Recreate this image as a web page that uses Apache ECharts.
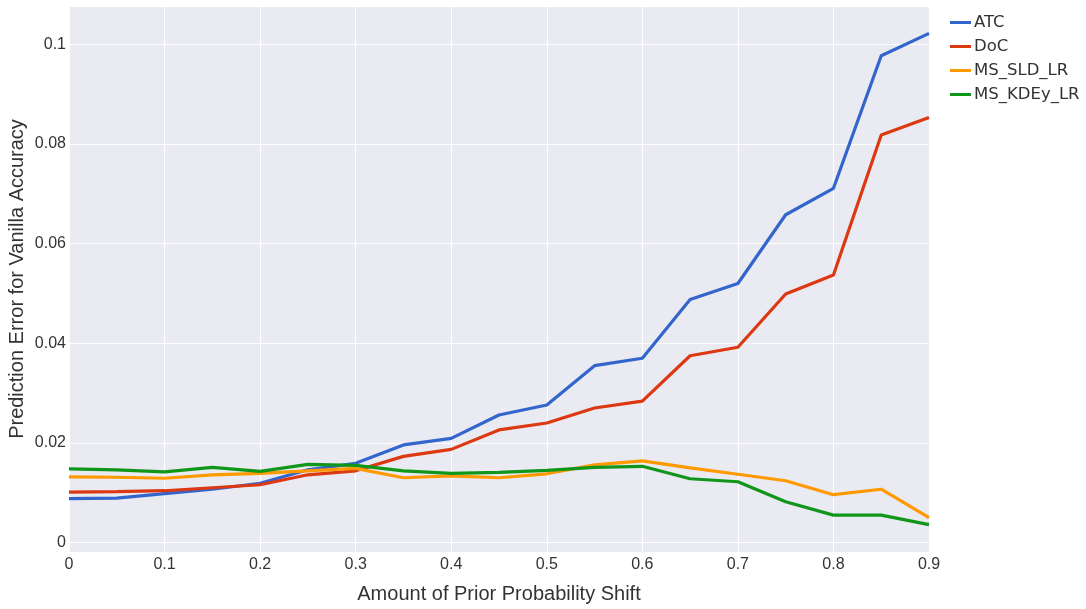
<!DOCTYPE html>
<html>
<head>
<meta charset="utf-8">
<title>Prediction Error for Vanilla Accuracy</title>
<style>
	html, body { margin: 0; padding: 0; background: #fff; }
	#chart { width: 1086px; height: 609px; }
</style>
</head>
<body>
	<div id="chart"></div>

	<script src="https://cdn.jsdelivr.net/npm/echarts@6/dist/echarts.min.js"></script>
	<script>
		var shift = [0, 0.05, 0.1, 0.15, 0.2, 0.25, 0.3, 0.35, 0.4, 0.45, 0.5, 0.55, 0.6, 0.65, 0.7, 0.75, 0.8, 0.85, 0.9];
		var atc = [0.0088, 0.0089, 0.0098, 0.0107, 0.0119, 0.0146, 0.0159, 0.0196, 0.0209, 0.0256, 0.0276, 0.0355, 0.0370, 0.0488, 0.0520, 0.0658, 0.0711, 0.0977, 0.1022];
		var doc = [0.0101, 0.0102, 0.0104, 0.0110, 0.0116, 0.0136, 0.0144, 0.0173, 0.0187, 0.0226, 0.0240, 0.0270, 0.0284, 0.0375, 0.0392, 0.0499, 0.0537, 0.0818, 0.0853];
		var msSld = [0.0132, 0.0131, 0.0129, 0.0136, 0.0139, 0.0144, 0.0149, 0.0130, 0.0134, 0.0130, 0.0138, 0.0156, 0.0164, 0.0150, 0.0137, 0.0124, 0.0096, 0.0107, 0.0050];
		var msKdey = [0.0148, 0.0146, 0.0142, 0.0151, 0.0143, 0.0157, 0.0155, 0.0144, 0.0139, 0.0141, 0.0145, 0.0151, 0.0153, 0.0128, 0.0122, 0.0082, 0.0055, 0.0055, 0.0036];

		var names = ['ATC', 'DoC', 'MS_SLD_LR', 'MS_KDEy_LR'];
		var colors = ['#3366CC', '#DC3912', '#FF9900', '#109618'];
		var values = [atc, doc, msSld, msKdey];

		var font = '"Liberation Sans", Arial, sans-serif';
		var legendFont = '"DejaVu Sans", sans-serif';
		var textColor = '#333';

		function pairs(ys) {
			return shift.map(function (x, i) { return [x, ys[i]]; });
		}

		var series = names.map(function (n, i) {
			return {
				name: n, type: 'line', symbol: 'none', data: pairs(values[i]),
				lineStyle: { width: 3.2, color: colors[i] },
				itemStyle: { color: colors[i] }
			};
		});

		var option = {
			animation: false,
			textStyle: { fontFamily: font },
			grid: {
				left: 69, right: 157, top: 6, bottom: 57,
				outerBoundsMode: 'none',
				show: true, backgroundColor: '#EAEAF2', borderWidth: 0
			},
			legend: {
				orient: 'vertical', left: 945, top: 9,
				itemWidth: 21, itemHeight: 3, itemGap: 7,
				icon: 'rect',
				textStyle: { fontSize: 16.5, color: textColor, fontFamily: legendFont, padding: [0, 0, 0, -2] },
				data: names
			},
			xAxis: {
				type: 'value', min: 0, max: 0.9, interval: 0.1,
				name: 'Amount of Prior Probability Shift',
				nameLocation: 'middle', nameGap: 32,
				nameTextStyle: { fontSize: 20, color: textColor, fontFamily: font },
				axisLine: { show: false }, axisTick: { show: false },
				axisLabel: { fontSize: 16, color: textColor, margin: 5, fontFamily: font },
				splitLine: { lineStyle: { color: '#fff', width: 1 } }
			},
			yAxis: {
				type: 'value', min: -0.0019, max: 0.1077, splitNumber: 5,
				name: 'Prediction Error for Vanilla Accuracy',
				nameLocation: 'middle', nameGap: 42, nameMoveOverlap: false,
				nameTextStyle: { fontSize: 20, color: textColor, fontFamily: font },
				axisLine: { show: false }, axisTick: { show: false },
				axisLabel: { fontSize: 16, color: textColor, margin: 3, fontFamily: font, showMinLabel: false, showMaxLabel: false },
				splitLine: { lineStyle: { color: '#fff', width: 1 } }
			},
			series: series
		};

		var chart = echarts.init(document.getElementById('chart'));
		chart.setOption(option);
	</script>
</body>
</html>
